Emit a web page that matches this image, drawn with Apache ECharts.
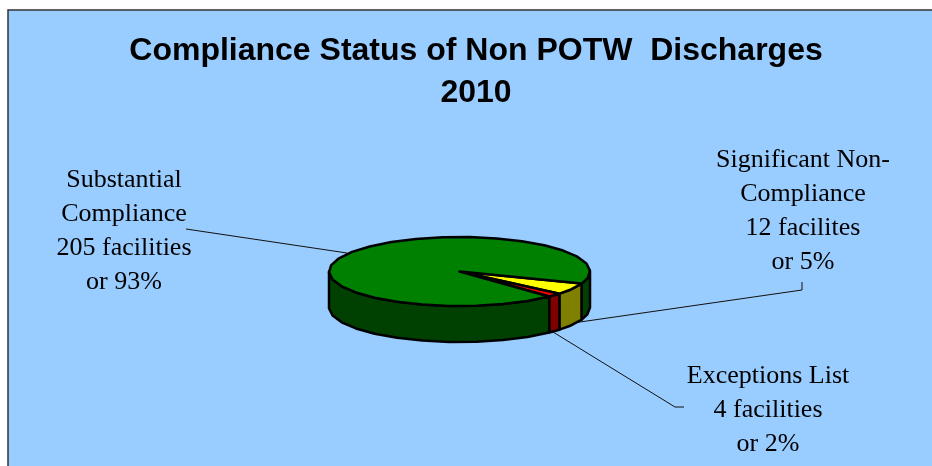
<!DOCTYPE html>
<html>
<head>
<meta charset="utf-8">
<style>
  html, body { margin: 0; padding: 0; background: #fff; }
  #chart { width: 932px; height: 466px; }
</style>
<script src="https://cdn.jsdelivr.net/npm/echarts@6/dist/echarts.min.js"></script>
</head>
<body>
<div id="chart"></div>
<script>
// Data
const titleLines = ["Compliance Status of Non POTW  Discharges", "2010"];
const facilities = [12, 4, 205];
const sliceLabels = [
  ["Significant Non-", "Compliance", "12 facilites", "or 5%"],
  ["Exceptions List", "4 facilities", "or 2%"],
  ["Substantial", "Compliance", "205 facilities", "or 93%"],
];
const topColors = ["#ffff00", "#ff0000", "#008000"];
const wallColors = ["#808000", "#800000", "#004000"];

// Layout of the tilted pie
const cx = 459.5, cy = 271.5, rx = 130.5, ry = 34.5, depth = 36;
const startAngle = 20.5;
const arcStep = 12;

const labelBoxes = [
  { x: 803, y: 160 },
  { x: 768, y: 376 },
  { x: 124, y: 180 },
];
const leaderLines = [
  [[802, 282], [802, 290], [573, 323]],
  [[684, 407], [675, 407], [553, 332]],
  [[186, 229], [347, 253]],
];

const total = facilities.reduce((a, b) => a + b, 0);

function sliceAngles(index) {
  let a = startAngle;
  for (let i = 0; i < index; i++) a += (facilities[i] / total) * 360;
  return [a, a + (facilities[index] / total) * 360];
}

function rimPoint(deg, dy) {
  const t = (deg * Math.PI) / 180;
  return [cx + rx * Math.cos(t), cy + ry * Math.sin(t) + dy];
}

function arcPoints(a0, a1, dy) {
  const pts = [];
  for (let a = a0; a < a1; a += arcStep) pts.push(rimPoint(a, dy));
  pts.push(rimPoint(a1, dy));
  return pts;
}

function polygonEl(points, fill) {
  return {
    type: "polygon",
    shape: { points: points },
    style: { fill: fill, stroke: "#000", lineWidth: 2.5, lineJoin: "round" },
  };
}

// Only the front half of the rim (0-180 deg, also 360-540) shows a wall
function renderWall(params, api) {
  const [a0, a1] = sliceAngles(params.dataIndex);
  const children = [];
  [[0, 180], [360, 540]].forEach(([lo, hi]) => {
    const from = Math.max(a0, lo);
    const to = Math.min(a1, hi);
    if (from >= to) return;
    const pts = arcPoints(from, to, 0).concat(arcPoints(from, to, depth).reverse());
    children.push(polygonEl(pts, wallColors[params.dataIndex]));
  });
  return { type: "group", children: children };
}

function renderTop(params, api) {
  const [a0, a1] = sliceAngles(params.dataIndex);
  const pts = [[cx, cy]].concat(arcPoints(a0, a1, 0));
  return polygonEl(pts, topColors[params.dataIndex]);
}

const graphics = [
  {
    type: "rect",
    silent: true,
    z: -10,
    shape: { x: 8, y: 10, width: 1000, height: 1000 },
    style: { fill: "#99ccff", stroke: "#333", lineWidth: 1.5 },
  },
];

leaderLines.forEach((pts) => {
  graphics.push({
    type: "polyline",
    z: 1,
    shape: { points: pts },
    style: { fill: null, stroke: "#111", lineWidth: 1 },
  });
});

sliceLabels.forEach((lines, i) => {
  lines.forEach((line, j) => {
    graphics.push({
      type: "text",
      z: 5,
      x: labelBoxes[i].x,
      y: labelBoxes[i].y + j * 34,
      style: {
        text: line,
        fill: "#000",
        font: '26px "Liberation Serif", serif',
        align: "center",
        verticalAlign: "middle",
      },
    });
  });
});

const chart = echarts.init(document.getElementById("chart"));
chart.setOption({
  animation: false,
  backgroundColor: "#fff",
  title: {
    text: titleLines.join("\n"),
    left: 471,
    top: 25,
    textAlign: "center",
    textStyle: {
      fontFamily: '"Liberation Sans", Arial, sans-serif',
      fontSize: 32,
      fontWeight: "bold",
      color: "#000",
      lineHeight: 42,
    },
  },
  graphic: graphics,
  series: [
    {
      type: "custom",
      coordinateSystem: "none",
      renderItem: renderWall,
      data: facilities,
      z: 3,
      silent: true,
    },
    {
      type: "custom",
      coordinateSystem: "none",
      renderItem: renderTop,
      data: facilities,
      z: 4,
      silent: true,
    },
  ],
});
</script>
</body>
</html>
